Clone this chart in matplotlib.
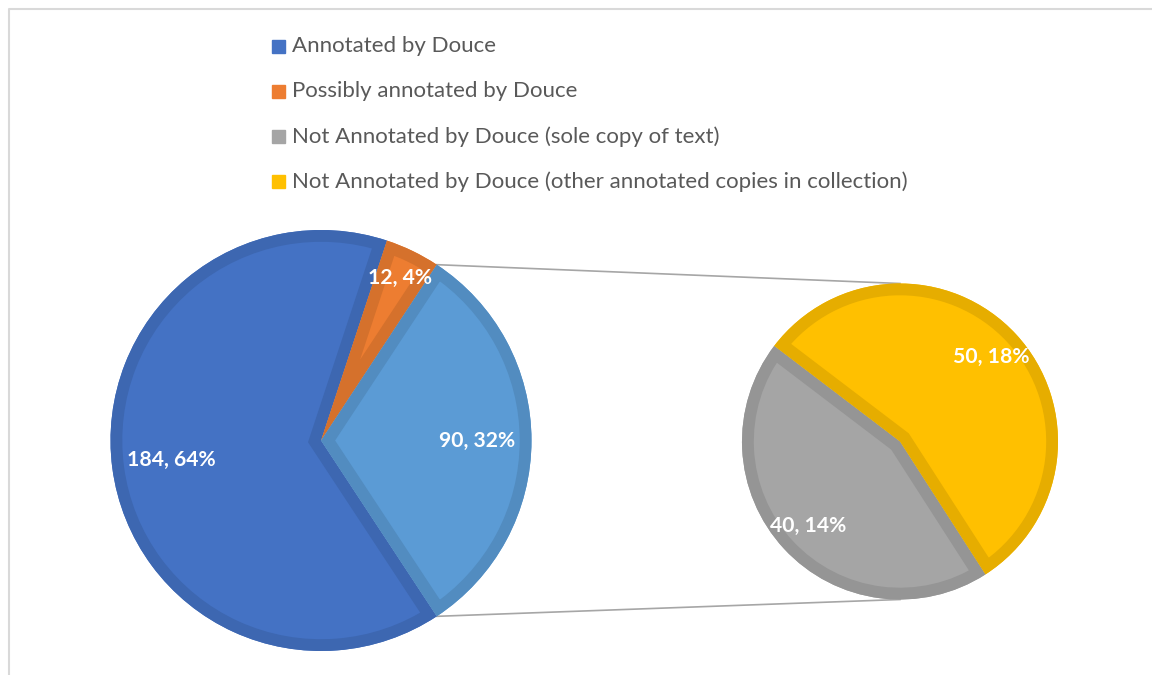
import numpy as np
import matplotlib
matplotlib.use('Agg')
import matplotlib.pyplot as plt
from matplotlib.patches import Rectangle, PathPatch

# data
main_names = ['Annotated by Douce', 'Possibly annotated by Douce', 'Other']
main_values = [184, 12, 90]
sub_names = ['Not Annotated by Douce (sole copy of text)',
             'Not Annotated by Douce (other annotated copies in collection)']
sub_values = [40, 50]

legend_names = main_names[:2] + sub_names
main_colors = ['#4472C4', '#ED7D31', '#5B9BD5']
main_edges = ['#3D67B1', '#D5712C', '#528CC0']
sub_colors = ['#A5A5A5', '#FFC000']
sub_edges = ['#959595', '#E6AD00']
legend_colors = main_colors[:2] + sub_colors

plt.rcParams['font.family'] = ['Lato', 'DejaVu Sans']

W, H = 1152, 675
fig = plt.figure(figsize=(W / 100, H / 100), dpi=100)
ax = fig.add_axes((0, 0, 1, 1))


def Y(y):
    return H - y


# percentages, largest remainder so they add to 100 (as Excel does)
parts = main_values[:2] + sub_values
raw = np.array(parts) / sum(parts) * 100
pct = np.floor(raw).astype(int)
left = 100 - pct.sum()
for i in np.argsort(-(raw - pct))[:left]:
    pct[i] += 1
main_pct = [pct[0], pct[1], pct[2] + pct[3]]
sub_pct = [pct[2], pct[3]]

# main pie
mc, mr = (321, Y(440.5)), 210.5
start = -main_values[2] / sum(main_values) * 360 / 2
wm, _ = ax.pie(main_values, colors=main_colors, center=mc, radius=mr,
               startangle=start, counterclock=False, frame=True)
# secondary pie
sc, sr = (900, Y(441.5)), 158
ws, _ = ax.pie(sub_values, colors=sub_colors, center=sc, radius=sr,
               startangle=-57.25, counterclock=False, frame=True)

ax.set_xlim(0, W)
ax.set_ylim(0, H)
ax.set_aspect('auto')

# darker inner border on each slice: a thick outline kept inside its own slice
for w, ec in zip(list(wm) + list(ws), main_edges + sub_edges):
    w.set_linewidth(0)
    b = ax.add_patch(PathPatch(w.get_path(), facecolor='none', edgecolor=ec,
                               linewidth=17, joinstyle='miter',
                               transform=ax.transData))
    b.set_clip_path(w.get_path(), ax.transData)

# connector lines
a = np.deg2rad(wm[2].theta2)
b = np.deg2rad(wm[2].theta1)
ax.plot([mc[0] + mr * np.cos(a), sc[0]], [mc[1] + mr * np.sin(a), sc[1] + sr],
        color='#A6A6A6', lw=1.2, zorder=0)
ax.plot([mc[0] + mr * np.cos(b), sc[0]], [mc[1] + mr * np.sin(b), sc[1] - sr],
        color='#A6A6A6', lw=1.2, zorder=0)


# data labels
def label(wedges, vals, pcts, center, r, fracs):
    for w, v, p, f in zip(wedges, vals, pcts, fracs):
        t = np.deg2rad((w.theta1 + w.theta2) / 2)
        ax.text(center[0] + f * r * np.cos(t), center[1] + f * r * np.sin(t),
                f'{v}, {p}%', color='white', fontsize=15.2, fontweight='bold',
                ha='center', va='center', zorder=5)


label(wm, main_values, main_pct, mc, mr, [0.715, 0.86, 0.74])
label(ws, sub_values, sub_pct, sc, sr, [0.79, 0.79])

# legend
for i, (name, col) in enumerate(zip(legend_names, legend_colors)):
    y = Y(46 + i * 45.3)
    ax.add_patch(Rectangle((272, y - 6.5), 13, 13, color=col))
    ax.text(292, y, name, color='#595959', fontsize=16, va='center', ha='left')

# chart area border
ax.plot([8.5, 8.5, W], [0, Y(8.5), Y(8.5)], color='#D9D9D9', lw=1.5)

ax.axis('off')

fig.savefig('out.png', dpi=100)
